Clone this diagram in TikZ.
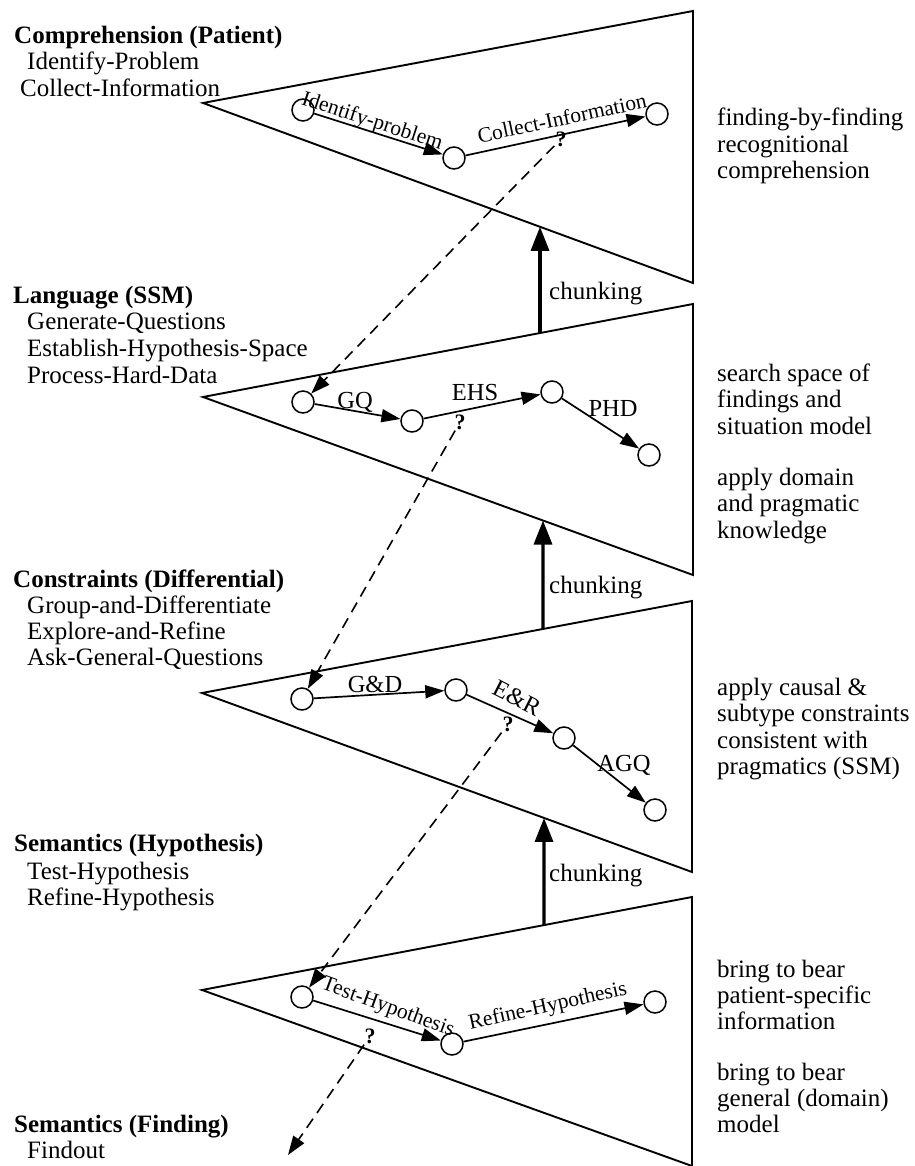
\documentclass[tikz,border=0pt]{standalone}
\usepackage{fontspec}
\setmainfont{Liberation Serif}
\usetikzlibrary{arrows.meta}
\begin{document}
\begin{tikzpicture}[x=1pt,y=-1pt,
  tri/.style={line width=1.9pt, line join=miter},
  st/.style={circle, draw, line width=1.5pt, minimum size=22pt, inner sep=0pt},
  edge/.style={line width=1.7pt, -{Triangle[length=19pt,width=13pt]}},
  chunk/.style={line width=3.3pt, -{Triangle[length=24pt,width=18pt]}},
  dsh/.style={line width=1.6pt, dash pattern=on 11pt off 7pt, -{Triangle[length=19pt,width=13pt]}},
  txt/.style={font=\fontsize{25}{26}\selectfont, inner sep=0pt, anchor=base west},
  head/.style={txt, font=\fontsize{25}{26}\selectfont\bfseries},
  lab/.style={font=\fontsize{21.5}{22}\selectfont, inner sep=0pt},
  slab/.style={font=\fontsize{24.5}{25}\selectfont, inner sep=0pt, anchor=base},
  qm/.style={font=\fontsize{22}{22}\selectfont\bfseries, inner sep=1pt},
]
\useasboundingbox (0,0) rectangle (914,1166);

% triangles
\coordinate (A1) at (203,103); \coordinate (R1) at (693,11);  \coordinate (S1) at (693,283);
\coordinate (A2) at (203,397); \coordinate (R2) at (693,304); \coordinate (S2) at (693,575);
\coordinate (A3) at (202,693); \coordinate (R3) at (692,601); \coordinate (S3) at (692,872);
\coordinate (A4) at (202,990); \coordinate (R4) at (692,897); \coordinate (S4) at (692,1166);
\draw[tri] (A1) -- (R1) -- (S1) -- cycle;
\draw[tri] (A2) -- (R2) -- (S2) -- cycle;
\draw[tri] (A3) -- (R3) -- (S3) -- cycle;
\draw[tri] (A4) -- (R4) -- (S4) -- cycle;

% chunking arrows
\coordinate (u1) at (540,0); \coordinate (d1) at (540,1166);
\coordinate (u2) at (543,0); \coordinate (d2) at (543,1166);
\coordinate (u3) at (544,0); \coordinate (d3) at (544,1166);
\coordinate (k1e) at (intersection of u1--d1 and A1--S1);
\coordinate (k1s) at (intersection of u1--d1 and A2--R2);
\coordinate (k2e) at (intersection of u2--d2 and A2--S2);
\coordinate (k2s) at (intersection of u2--d2 and A3--R3);
\coordinate (k3e) at (intersection of u3--d3 and A3--S3);
\coordinate (k3s) at (intersection of u3--d3 and A4--R4);
\draw[chunk] (k1s) -- (k1e);
\draw[chunk] (k2s) -- (k2e);
\draw[chunk] (k3s) -- (k3e);
\node[txt] (ch1) at (549,299) {chunking};
\node[txt] (ch2) at (549,593) {chunking};
\node[txt] (ch3) at (549,881) {chunking};

% states
\node[st] (a1) at (303,110) {};
\node[st] (a2) at (454,158) {};
\node[st] (a3) at (657,114) {};
\node[st] (b1) at (303,402) {};
\node[st] (b2) at (412,421) {};
\node[st] (b3) at (552,392) {};
\node[st] (b4) at (649,455) {};
\node[st] (c1) at (302,699) {};
\node[st] (c2) at (456,690) {};
\node[st] (c3) at (564,738) {};
\node[st] (c4) at (655,810) {};
\node[st] (e1) at (302,997) {};
\node[st] (e2) at (452,1044) {};
\node[st] (e3) at (655,1002) {};

% transitions
\draw[edge] (a1) -- (a2);
\draw[edge] (a2) -- (a3);
\draw[edge] (b1) -- (b2);
\draw[edge] (b2) -- (b3);
\draw[edge] (b3) -- (b4);
\draw[edge] (c1) -- (c2);
\draw[edge] (c2) -- (c3);
\draw[edge] (c3) -- (c4);
\draw[edge] (e1) -- (e2);
\draw[edge] (e2) -- (e3);

% transition labels
\node[lab, rotate=-18] (la1) at (372,122) {Identify-problem};
\node[lab, rotate=12] (la2) at (562,118) {Collect-Information};
\node[slab] (lb1) at (355,408) {GQ};
\node[slab] (lb2) at (475,400) {EHS};
\node[slab] (lb3) at (613,416) {PHD};
\node[slab] (lc1) at (375,692) {G\&D};
\node[lab, font=\fontsize{24.5}{25}\selectfont, rotate=-27] (lc2) at (517,698) {E\&R};
\node[slab] (lc3) at (624,771) {AGQ};
\node[lab, rotate=-20] (le1) at (388,1008) {Test-Hypothesis};
\node[lab, rotate=12.5] (le2) at (548,1007) {Refine-Hypothesis};

% question marks and dashed descents
\node[qm] (q1) at (561,139) {?};
\node[qm] (q2) at (460,422) {?};
\node[qm] (q3) at (508,724) {?};
\node[qm] (q4) at (370,1036) {?};
\coordinate (qend) at (288,1155);
\draw[dsh] (q1) -- (b1);
\draw[dsh] (q2) -- (c1);
\draw[dsh] (q3) -- (e1);
\draw[dsh] (q4) -- (qend);

% left headings
\node[head] (h1) at (14,44) {Comprehension (Patient)};
\node[txt] (h1a) at (27,70) {Identify-Problem};
\node[txt] (h1b) at (20,97) {Collect-Information};
\node[head] (h2) at (13,303) {Language (SSM)};
\node[txt] (h2a) at (27,329.5) {Generate-Questions};
\node[txt] (h2b) at (27,356) {Establish-Hypothesis-Space};
\node[txt] (h2c) at (27,383) {Process-Hard-Data};
\node[head] (h3) at (13,587) {Constraints (Differential)};
\node[txt] (h3a) at (27,613) {Group-and-Differentiate};
\node[txt] (h3b) at (27,639) {Explore-and-Refine};
\node[txt] (h3c) at (27,665) {Ask-General-Questions};
\node[head] (h4) at (14,851) {Semantics (Hypothesis)};
\node[txt] (h4a) at (27,879) {Test-Hypothesis};
\node[txt] (h4b) at (27,905) {Refine-Hypothesis};
\node[head] (h5) at (14,1132) {Semantics (Finding)};
\node[txt] (h5a) at (27,1158) {Findout};

% right annotations
\node[txt] (r1a) at (717,126) {finding-by-finding};
\node[txt] (r1b) at (717,152.5) {recognitional};
\node[txt] (r1c) at (717,179) {comprehension};
\node[txt] (r2a) at (717,381) {search space of};
\node[txt] (r2b) at (717,407.5) {findings and};
\node[txt] (r2c) at (717,434) {situation model};
\node[txt] (r2d) at (717,485) {apply domain};
\node[txt] (r2e) at (717,511.5) {and pragmatic};
\node[txt] (r2f) at (717,538) {knowledge};
\node[txt] (r3a) at (717,695) {apply causal \&};
\node[txt] (r3b) at (717,721.5) {subtype constraints};
\node[txt] (r3c) at (717,748) {consistent with};
\node[txt] (r3d) at (717,774) {pragmatics (SSM)};
\node[txt] (r4a) at (717,977) {bring to bear};
\node[txt] (r4b) at (717,1003) {patient-specific};
\node[txt] (r4c) at (717,1029) {information};
\node[txt] (r4d) at (717,1080) {bring to bear};
\node[txt] (r4e) at (717,1106) {general (domain)};
\node[txt] (r4f) at (717,1132) {model};
\end{tikzpicture}
\end{document}
